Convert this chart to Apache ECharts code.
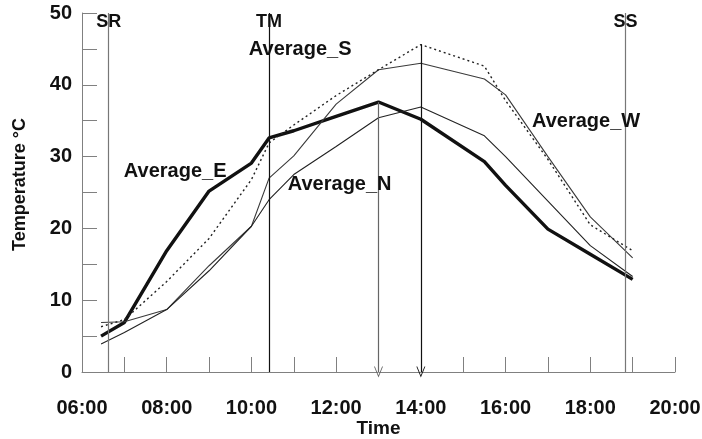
<!DOCTYPE html>
<html>
<head>
<meta charset="utf-8">
<script src="https://cdn.jsdelivr.net/npm/echarts@6/dist/echarts.min.js"></script>
<style>
html,body{margin:0;padding:0;background:#fff;}
#chart{width:702px;height:439px;}
</style>
</head>
<body>
<div id="chart"></div>
<script>
// ---- data ----
const times = ["06:27","07:00","08:00","09:00","10:00","10:25","11:00","12:00","13:00","14:00","15:30","16:00","17:00","18:00","19:00"];
const averageE = [5.0, 6.9, 16.9, 25.2, 29.1, 32.6, 33.6, 35.6, 37.6, 35.2, 29.3, 26.0, 19.9, 16.4, 12.9];
const averageS = [6.9, 7.0, 8.7, 14.8, 20.3, 27.0, 30.1, 37.3, 42.1, 43.0, 40.8, 38.6, 30.0, 21.6, 15.9];
const averageN = [3.9, 5.5, 8.7, 14.1, 20.3, 24.0, 27.5, 31.4, 35.4, 36.9, 32.9, 30.0, 23.8, 17.6, 13.3];
const averageW = [6.3, 7.3, 12.6, 18.6, 26.8, 31.9, 34.4, 38.5, 42.1, 45.6, 42.6, 37.8, 29.6, 20.5, 16.9];

const refNames = ["SR", "TM", "SS"];
const refTimes = ["06:38", "10:25", "18:50"];
const arrowTimes = ["13:00", "14:00"];
const arrowTops = [37.6, 45.6];

const seriesNames = ["Average_E", "Average_S", "Average_N", "Average_W"];
const labelTimes = ["08:12", "11:09", "12:05", "17:54"];
const labelValues = [27.9, 44.9, 26.1, 34.9];

const xTicks = ["06:00","08:00","10:00","12:00","14:00","16:00","18:00","20:00"];
const yTicks = [0, 10, 20, 30, 40, 50];

// ---- helpers ----
function hrs(s){ const p = s.split(":"); return +p[0] + (+p[1]) / 60; }
function pts(vals){ return times.map((t,i)=>[hrs(t), vals[i]]); }
function fmtH(v){ return (v < 10 ? "0" : "") + v + ":00"; }

const FONT = "'Liberation Sans', Arial, sans-serif";
const chart = echarts.init(document.getElementById('chart'), null, {renderer:'canvas'});

const vee = 'path://M0,10 L5,0 L10,10 L9,10 L5,2 L1,10 Z';

function seriesLabel(i){
  return {
    symbol: 'circle', symbolSize: 1, itemStyle:{color:'rgba(0,0,0,0)'},
    label: {show:true, position:'inside', formatter: seriesNames[i], color:'#111',
      fontFamily: FONT, fontWeight:'bold', fontSize:20},
    data: [{coord:[hrs(labelTimes[i]), labelValues[i]]}]
  };
}

const refColors = ['#777', '#111', '#777'];
const arrowColors = ['#666', '#111'];

const option = {
  animation: false,
  backgroundColor: '#fff',
  grid: {left: 82, right: 27, top: 13, bottom: 67, containLabel:false, outerBoundsMode:'none'},
  xAxis: {
    type: 'value', min: 6, max: 20, interval: 1,
    name: 'Time', nameLocation: 'middle', nameGap: 47, nameMoveOverlap: false,
    nameTextStyle: {fontFamily: FONT, fontWeight:'bold', fontSize:19, color:'#111'},
    axisLine: {show:true, lineStyle:{color:'#808080', width:1}},
    axisTick: {show:true, inside:true, length:15, lineStyle:{color:'#808080'}},
    splitLine: {show:false},
    axisLabel: {
      margin: 26, color:'#111', fontFamily: FONT, fontWeight:'bold', fontSize:20,
      formatter: v => { const s = fmtH(v); return xTicks.indexOf(s) >= 0 ? s : ''; }
    }
  },
  yAxis: {
    type: 'value', min: 0, max: 50, interval: 5,
    name: 'Temperature °C', nameLocation: 'middle', nameGap: 53, nameRotate: 90, nameMoveOverlap: false,
    nameTextStyle: {fontFamily: FONT, fontWeight:'bold', fontSize:18, color:'#111', padding:[0,0,0,16]},
    axisLine: {show:true, lineStyle:{color:'#808080', width:1}},
    axisTick: {show:true, inside:true, length:15, lineStyle:{color:'#808080'}},
    splitLine: {show:false},
    axisLabel: {
      margin: 10, color:'#111', fontFamily: FONT, fontWeight:'bold', fontSize:20,
      formatter: v => yTicks.indexOf(v) >= 0 ? String(v) : ''
    }
  },
  series: [
    {
      name: 'refs', type:'line', data: [], silent:true,
      markLine: {
        silent: true, symbol: ['none','none'], label:{show:false},
        data: refTimes.map((t,i)=>({xAxis: hrs(t), lineStyle:{color: refColors[i], width:1.2, type:'solid'}}))
          .concat(arrowTimes.map((t,i)=>[
            {coord:[hrs(t), arrowTops[i]], symbol:'none', lineStyle:{color: arrowColors[i], width:1.2, type:'solid'}},
            {coord:[hrs(t), 0], symbol: vee, symbolSize:[9,11]}
          ]))
      },
      markPoint: {
        symbol:'circle', symbolSize:1, itemStyle:{color:'rgba(0,0,0,0)'},
        label:{show:true, position:'inside', color:'#111', fontFamily: FONT, fontWeight:'bold', fontSize:18},
        data: refTimes.map((t,i)=>({coord:[hrs(t), 48.8], label:{formatter: refNames[i]}}))
      }
    },
    {
      name: seriesNames[0], type:'line', data: pts(averageE), symbol:'none',
      lineStyle:{color:'#111', width:3.4}, markPoint: seriesLabel(0)
    },
    {
      name: seriesNames[1], type:'line', data: pts(averageS), symbol:'none',
      lineStyle:{color:'#3a3a3a', width:1.1}, markPoint: seriesLabel(1)
    },
    {
      name: seriesNames[2], type:'line', data: pts(averageN), symbol:'none',
      lineStyle:{color:'#222', width:1.1}, markPoint: seriesLabel(2)
    },
    {
      name: seriesNames[3], type:'line', data: pts(averageW), symbol:'none',
      lineStyle:{color:'#222', width:1.4, type:[2,3]}, markPoint: seriesLabel(3)
    }
  ]
};
chart.setOption(option);
</script>
</body>
</html>
